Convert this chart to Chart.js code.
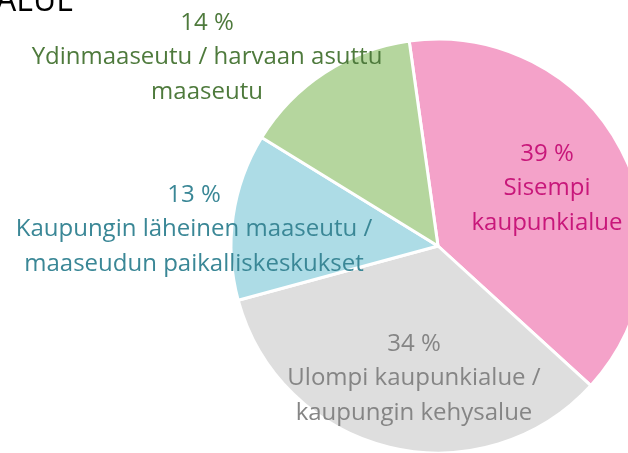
<!DOCTYPE html>
<html>
<head>
<meta charset="utf-8">
<script src="https://cdn.jsdelivr.net/npm/chart.js@4"></script>
<style>
  html, body { margin: 0; padding: 0; background: #fff; overflow: hidden; width: 628px; height: 453px; }
  #wrap { position: absolute; left: 0; top: 0; width: 874px; height: 490px; }
</style>
</head>
<body>
<div id="wrap"><canvas id="pieChart" width="874" height="490"></canvas></div>
<script>
// data
const categories = [
  "Sisempi kaupunkialue",
  "Ulompi kaupunkialue / kaupungin kehysalue",
  "Kaupungin läheinen maaseutu / maaseudun paikalliskeskukset",
  "Ydinmaaseutu / harvaan asuttu maaseutu"
];
const shares = [39, 34, 13, 14];
const labelLines = [
  ["Sisempi", "kaupunkialue"],
  ["Ulompi kaupunkialue /", "kaupungin kehysalue"],
  ["Kaupungin läheinen maaseutu /", "maaseudun paikalliskeskukset"],
  ["Ydinmaaseutu / harvaan asuttu", "maaseutu"]
];
const titleText = "ALUE";

// styles
const fillColors = ["#f4a2c9", "#dedede", "#addce6", "#b5d69e"];
const textColors = ["#c8177a", "#858585", "#3a8796", "#4e7a3c"];
// label block centre, offset from pie centre (px)
const labelOffsets = [[109, -59], [-24, 131], [-244, -18], [-231, -190]];

const FONT = '"Open Sans", sans-serif';

const labelPlugin = {
  id: "sliceLabels",
  afterDatasetsDraw(chart) {
    const ctx = chart.ctx;
    const arcs = chart.getDatasetMeta(0).data;
    ctx.save();
    ctx.textAlign = "center";
    ctx.textBaseline = "alphabetic";
    ctx.font = "24px " + FONT;
    const lh = 34.5;
    arcs.forEach((arc, i) => {
      const cx = arc.x + labelOffsets[i][0];
      const cy = arc.y + labelOffsets[i][1];
      const lines = [shares[i] + " %"].concat(labelLines[i]);
      const y0 = cy - lh * (lines.length - 1) / 2 + 8;
      ctx.fillStyle = textColors[i];
      lines.forEach((t, k) => ctx.fillText(t, cx, y0 + k * lh));
    });
    // cropped title
    ctx.fillStyle = "#000";
    ctx.textAlign = "right";
    ctx.font = "32px " + FONT;
    ctx.fillText(titleText, 74, 11);
    ctx.restore();
  }
};

let chartPie = null;

function initChart() {
  const canvas = document.getElementById("pieChart");
  if (chartPie) chartPie.destroy();
  chartPie = new Chart(canvas.getContext("2d"), {
    type: "pie",
    data: {
      labels: categories,
      datasets: [{
        data: shares,
        backgroundColor: fillColors,
        borderColor: "#fff",
        borderWidth: 3,
        radius: 207,
      }],
    },
    options: {
      responsive: false,
      animation: false,
      rotation: -8,
      layout: { padding: { left: 232.5, right: 230.5, top: 40.5, bottom: 38.5 } },
      plugins: {
        legend: { display: false },
        tooltip: { enabled: false },
        title: { display: false },
      },
    },
    plugins: [labelPlugin],
  });
}

document.addEventListener("DOMContentLoaded", initChart);
</script>
</body>
</html>
